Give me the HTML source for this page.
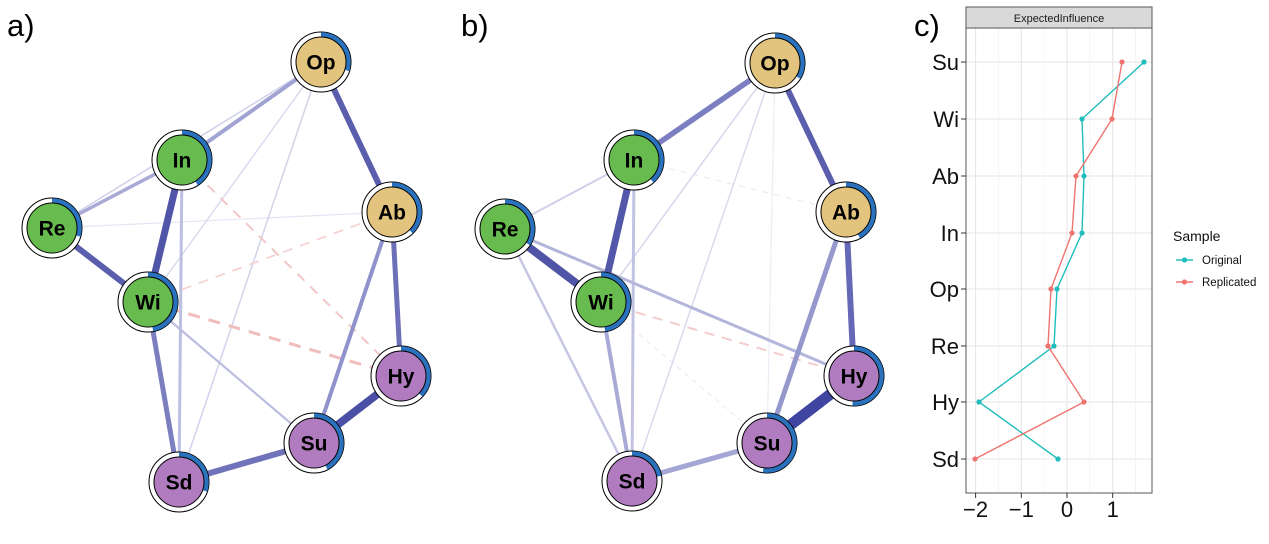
<!DOCTYPE html>
<html><head><meta charset="utf-8"><style>
html,body{margin:0;padding:0;background:#fff;}
svg{display:block;font-family:"Liberation Sans",Arial,sans-serif;}
.nl{font-weight:bold;font-size:21px;text-anchor:middle;fill:#000;}
.pl{font-size:31px;fill:#000;}
.yl{font-size:22px;text-anchor:end;fill:#111;}
.xl{font-size:22px;text-anchor:middle;fill:#111;}
</style></head><body>
<svg width="1269" height="544" viewBox="0 0 1269 544" xmlns="http://www.w3.org/2000/svg">
<rect width="1269" height="544" fill="#fff"/>
<text class="pl" x="7" y="36">a)</text>
<text class="pl" x="461" y="36">b)</text>
<text class="pl" x="914" y="36">c)</text>

<!-- Panel a edges -->
<g stroke-linecap="butt" fill="none">
<line x1="52" y1="228" x2="392" y2="212" stroke="#e4e5f3" stroke-width="1.2"/>
<line x1="52" y1="228" x2="321" y2="62" stroke="#cfd0ea" stroke-width="1.5"/>
<line x1="321" y1="62" x2="148" y2="302" stroke="#d8d9ee" stroke-width="1.4"/>
<line x1="321" y1="62" x2="179" y2="482" stroke="#d2d3eb" stroke-width="1.5"/>
<line x1="182" y1="160" x2="179" y2="482" stroke="#bdbfe0" stroke-width="3"/>
<line x1="148" y1="302" x2="314" y2="443" stroke="#bbbde0" stroke-width="2.2"/>
<line x1="52" y1="228" x2="182" y2="160" stroke="#a9abd6" stroke-width="3.5"/>
<line x1="321" y1="62" x2="182" y2="160" stroke="#a1a3d3" stroke-width="4"/>
<line x1="182" y1="160" x2="401" y2="376" stroke="#f2c6c6" stroke-width="2" stroke-dasharray="10 8"/>
<line x1="148" y1="302" x2="392" y2="212" stroke="#f5d3d3" stroke-width="1.8" stroke-dasharray="10 8"/>
<line x1="148" y1="302" x2="401" y2="376" stroke="#f0bcbc" stroke-width="3" stroke-dasharray="12 9"/>
<line x1="392" y1="212" x2="314" y2="443" stroke="#9092cb" stroke-width="4"/>
<line x1="392" y1="212" x2="401" y2="376" stroke="#6d70b8" stroke-width="5"/>
<line x1="148" y1="302" x2="179" y2="482" stroke="#7b7ebf" stroke-width="5"/>
<line x1="314" y1="443" x2="179" y2="482" stroke="#7073ba" stroke-width="6"/>
<line x1="321" y1="62" x2="392" y2="212" stroke="#5a5eac" stroke-width="6"/>
<line x1="52" y1="228" x2="148" y2="302" stroke="#5a5eac" stroke-width="6"/>
<line x1="182" y1="160" x2="148" y2="302" stroke="#5055a8" stroke-width="7"/>
<line x1="401" y1="376" x2="314" y2="443" stroke="#4b50a6" stroke-width="8"/>
</g>

<!-- Panel b edges -->
<g stroke-linecap="butt" fill="none">
<line x1="775" y1="63" x2="767" y2="443" stroke="#ececf6" stroke-width="1.2"/>
<line x1="634" y1="160" x2="846" y2="212" stroke="#efe9ef" stroke-width="1.2" stroke-dasharray="6 6"/>
<line x1="601" y1="302" x2="767" y2="443" stroke="#f0eaf0" stroke-width="1.2" stroke-dasharray="5 5"/>
<line x1="775" y1="63" x2="601" y2="302" stroke="#d6d7ec" stroke-width="1.5"/>
<line x1="775" y1="63" x2="632" y2="481" stroke="#d9daee" stroke-width="1.5"/>
<line x1="505" y1="229" x2="634" y2="160" stroke="#cfd0e9" stroke-width="2"/>
<line x1="505" y1="229" x2="632" y2="481" stroke="#c5c6e4" stroke-width="2.5"/>
<line x1="634" y1="160" x2="632" y2="481" stroke="#c2c3e3" stroke-width="3"/>
<line x1="505" y1="229" x2="854" y2="376" stroke="#b3b5db" stroke-width="3"/>
<line x1="601" y1="302" x2="632" y2="481" stroke="#a9abd6" stroke-width="4"/>
<line x1="601" y1="302" x2="854" y2="376" stroke="#f3cccc" stroke-width="2" stroke-dasharray="10 8"/>
<line x1="767" y1="443" x2="632" y2="481" stroke="#a4a6d3" stroke-width="5"/>
<line x1="846" y1="212" x2="767" y2="443" stroke="#9598cc" stroke-width="5"/>
<line x1="775" y1="63" x2="634" y2="160" stroke="#7b7ec0" stroke-width="5.5"/>
<line x1="846" y1="212" x2="854" y2="376" stroke="#6569b5" stroke-width="6"/>
<line x1="775" y1="63" x2="846" y2="212" stroke="#5a5eac" stroke-width="6"/>
<line x1="634" y1="160" x2="601" y2="302" stroke="#5257a9" stroke-width="7"/>
<line x1="505" y1="229" x2="601" y2="302" stroke="#4f54a7" stroke-width="8"/>
<line x1="854" y1="376" x2="767" y2="443" stroke="#3f45a0" stroke-width="11"/>
</g>

<g>
<!-- Panel a nodes -->
<g transform="translate(321,62)"><circle r="30" fill="#fff" stroke="#000" stroke-width="1"/><path d="M0,-27.5 A27.5,27.5 0 0 1 26.15,8.5" stroke="#2a72bd" stroke-width="4.5" fill="none"/><circle r="25" fill="#e3c47f" stroke="#000" stroke-width="1"/><text class="nl" y="7.5">Op</text></g>
<g transform="translate(182,160)"><circle r="30" fill="#fff" stroke="#000" stroke-width="1"/><path d="M0,-27.5 A27.5,27.5 0 0 1 14.57,23.32" stroke="#2a72bd" stroke-width="4.5" fill="none"/><circle r="25" fill="#67bb4f" stroke="#000" stroke-width="1"/><text class="nl" y="7.5">In</text></g>
<g transform="translate(52,228)"><circle r="30" fill="#fff" stroke="#000" stroke-width="1"/><path d="M0,-27.5 A27.5,27.5 0 0 1 26.3,8.04" stroke="#2a72bd" stroke-width="4.5" fill="none"/><circle r="25" fill="#67bb4f" stroke="#000" stroke-width="1"/><text class="nl" y="7.5">Re</text></g>
<g transform="translate(392,212)"><circle r="30" fill="#fff" stroke="#000" stroke-width="1"/><path d="M0,-27.5 A27.5,27.5 0 0 1 19.1,19.78" stroke="#2a72bd" stroke-width="4.5" fill="none"/><circle r="25" fill="#e3c47f" stroke="#000" stroke-width="1"/><text class="nl" y="7.5">Ab</text></g>
<g transform="translate(148,302)"><circle r="30" fill="#fff" stroke="#000" stroke-width="1"/><path d="M0,-27.5 A27.5,27.5 0 0 1 4.78,27.08" stroke="#2a72bd" stroke-width="4.5" fill="none"/><circle r="25" fill="#67bb4f" stroke="#000" stroke-width="1"/><text class="nl" y="7.5">Wi</text></g>
<g transform="translate(401,376)"><circle r="30" fill="#fff" stroke="#000" stroke-width="1"/><path d="M0,-27.5 A27.5,27.5 0 0 1 19.78,19.1" stroke="#2a72bd" stroke-width="4.5" fill="none"/><circle r="25" fill="#b07cbf" stroke="#000" stroke-width="1"/><text class="nl" y="7.5">Hy</text></g>
<g transform="translate(314,443)"><circle r="30" fill="#fff" stroke="#000" stroke-width="1"/><path d="M0,-27.5 A27.5,27.5 0 0 1 12.48,24.5" stroke="#2a72bd" stroke-width="4.5" fill="none"/><circle r="25" fill="#b07cbf" stroke="#000" stroke-width="1"/><text class="nl" y="7.5">Su</text></g>
<g transform="translate(179,482)"><circle r="30" fill="#fff" stroke="#000" stroke-width="1"/><path d="M0,-27.5 A27.5,27.5 0 0 1 26,8.95" stroke="#2a72bd" stroke-width="4.5" fill="none"/><circle r="25" fill="#b07cbf" stroke="#000" stroke-width="1"/><text class="nl" y="7.5">Sd</text></g>

<!-- Panel b nodes -->
<g transform="translate(775,63)"><circle r="30" fill="#fff" stroke="#000" stroke-width="1"/><path d="M0,-27.5 A27.5,27.5 0 0 1 23.32,14.57" stroke="#2a72bd" stroke-width="4.5" fill="none"/><circle r="25" fill="#e3c47f" stroke="#000" stroke-width="1"/><text class="nl" y="7.5">Op</text></g>
<g transform="translate(634,160)"><circle r="30" fill="#fff" stroke="#000" stroke-width="1"/><path d="M0,-27.5 A27.5,27.5 0 0 1 18.04,20.76" stroke="#2a72bd" stroke-width="4.5" fill="none"/><circle r="25" fill="#67bb4f" stroke="#000" stroke-width="1"/><text class="nl" y="7.5">In</text></g>
<g transform="translate(505,229)"><circle r="30" fill="#fff" stroke="#000" stroke-width="1"/><path d="M0,-27.5 A27.5,27.5 0 0 1 23.06,14.98" stroke="#2a72bd" stroke-width="4.5" fill="none"/><circle r="25" fill="#67bb4f" stroke="#000" stroke-width="1"/><text class="nl" y="7.5">Re</text></g>
<g transform="translate(846,212)"><circle r="30" fill="#fff" stroke="#000" stroke-width="1"/><path d="M0,-27.5 A27.5,27.5 0 0 1 12.91,24.28" stroke="#2a72bd" stroke-width="4.5" fill="none"/><circle r="25" fill="#e3c47f" stroke="#000" stroke-width="1"/><text class="nl" y="7.5">Ab</text></g>
<g transform="translate(601,302)"><circle r="30" fill="#fff" stroke="#000" stroke-width="1"/><path d="M0,-27.5 A27.5,27.5 0 0 1 3.83,27.23" stroke="#2a72bd" stroke-width="4.5" fill="none"/><circle r="25" fill="#67bb4f" stroke="#000" stroke-width="1"/><text class="nl" y="7.5">Wi</text></g>
<g transform="translate(854,376)"><circle r="30" fill="#fff" stroke="#000" stroke-width="1"/><path d="M0,-27.5 A27.5,27.5 0 1 1 -1.44,27.46" stroke="#2a72bd" stroke-width="4.5" fill="none"/><circle r="25" fill="#b07cbf" stroke="#000" stroke-width="1"/><text class="nl" y="7.5">Hy</text></g>
<g transform="translate(767,443)"><circle r="30" fill="#fff" stroke="#000" stroke-width="1"/><path d="M0,-27.5 A27.5,27.5 0 1 1 -3.83,27.23" stroke="#2a72bd" stroke-width="4.5" fill="none"/><circle r="25" fill="#b07cbf" stroke="#000" stroke-width="1"/><text class="nl" y="7.5">Su</text></g>
<g transform="translate(632,481)"><circle r="30" fill="#fff" stroke="#000" stroke-width="1"/><path d="M0,-27.5 A27.5,27.5 0 0 1 27.08,-4.78" stroke="#2a72bd" stroke-width="4.5" fill="none"/><circle r="25" fill="#b07cbf" stroke="#000" stroke-width="1"/><text class="nl" y="7.5">Sd</text></g>
</g>

<!-- Panel c -->
<g>
<rect x="966" y="28" width="186" height="465" fill="#fff"/>
<g stroke="#f1f1f1" stroke-width="0.7">
<line x1="998.5" y1="28" x2="998.5" y2="493"/>
<line x1="1044.2" y1="28" x2="1044.2" y2="493"/>
<line x1="1089.9" y1="28" x2="1089.9" y2="493"/>
<line x1="1135.6" y1="28" x2="1135.6" y2="493"/>
</g>
<g stroke="#e6e6e6" stroke-width="1.1">
<line x1="975.6" y1="28" x2="975.6" y2="493"/>
<line x1="1021.3" y1="28" x2="1021.3" y2="493"/>
<line x1="1067" y1="28" x2="1067" y2="493"/>
<line x1="1112.7" y1="28" x2="1112.7" y2="493"/>
<line x1="966" y1="62" x2="1152" y2="62"/>
<line x1="966" y1="119" x2="1152" y2="119"/>
<line x1="966" y1="176" x2="1152" y2="176"/>
<line x1="966" y1="233" x2="1152" y2="233"/>
<line x1="966" y1="289" x2="1152" y2="289"/>
<line x1="966" y1="346" x2="1152" y2="346"/>
<line x1="966" y1="402" x2="1152" y2="402"/>
<line x1="966" y1="459" x2="1152" y2="459"/>
</g>
<polyline fill="none" stroke="#20bdbd" stroke-width="1.4" points="1144,62 1082,119 1084,176 1082,233 1057,289 1054,346 979,402 1058,459"/>
<polyline fill="none" stroke="#ef7470" stroke-width="1.4" points="1122,62 1112,119 1076,176 1072,233 1051,289 1048,346 1084,402 975,459"/>
<g fill="#20bdbd">
<circle cx="1144" cy="62" r="2.6"/><circle cx="1082" cy="119" r="2.6"/><circle cx="1084" cy="176" r="2.6"/><circle cx="1082" cy="233" r="2.6"/><circle cx="1057" cy="289" r="2.6"/><circle cx="1054" cy="346" r="2.6"/><circle cx="979" cy="402" r="2.6"/><circle cx="1058" cy="459" r="2.6"/>
</g>
<g fill="#ef7470">
<circle cx="1122" cy="62" r="2.6"/><circle cx="1112" cy="119" r="2.6"/><circle cx="1076" cy="176" r="2.6"/><circle cx="1072" cy="233" r="2.6"/><circle cx="1051" cy="289" r="2.6"/><circle cx="1048" cy="346" r="2.6"/><circle cx="1084" cy="402" r="2.6"/><circle cx="975" cy="459" r="2.6"/>
</g>
<rect x="966" y="28" width="186" height="465" fill="none" stroke="#666" stroke-width="1.1"/>
<rect x="966" y="7" width="186" height="21" fill="#d9d9d9" stroke="#666" stroke-width="1.1"/>
<text x="1059" y="22" font-size="11" text-anchor="middle" fill="#1a1a1a">ExpectedInfluence</text>
<g stroke="#333" stroke-width="1">
<line x1="961" y1="62" x2="966" y2="62"/><line x1="961" y1="119" x2="966" y2="119"/><line x1="961" y1="176" x2="966" y2="176"/><line x1="961" y1="233" x2="966" y2="233"/><line x1="961" y1="289" x2="966" y2="289"/><line x1="961" y1="346" x2="966" y2="346"/><line x1="961" y1="402" x2="966" y2="402"/><line x1="961" y1="459" x2="966" y2="459"/>
<line x1="975.6" y1="493" x2="975.6" y2="498"/><line x1="1021.3" y1="493" x2="1021.3" y2="498"/><line x1="1067" y1="493" x2="1067" y2="498"/><line x1="1112.7" y1="493" x2="1112.7" y2="498"/>
</g>
<text class="yl" x="959" y="70">Su</text>
<text class="yl" x="959" y="127">Wi</text>
<text class="yl" x="959" y="184">Ab</text>
<text class="yl" x="959" y="241">In</text>
<text class="yl" x="959" y="297">Op</text>
<text class="yl" x="959" y="354">Re</text>
<text class="yl" x="959" y="410">Hy</text>
<text class="yl" x="959" y="467">Sd</text>
<text class="xl" x="975.6" y="517">−2</text>
<text class="xl" x="1021.3" y="517">−1</text>
<text class="xl" x="1067" y="517">0</text>
<text class="xl" x="1112.7" y="517">1</text>
<text x="1173" y="241" font-size="14" fill="#111">Sample</text>
<line x1="1176" y1="260" x2="1193" y2="260" stroke="#20bdbd" stroke-width="1.4"/>
<circle cx="1184.5" cy="260" r="2.6" fill="#20bdbd"/>
<text x="1202" y="264" font-size="11.5" fill="#111">Original</text>
<line x1="1176" y1="282" x2="1193" y2="282" stroke="#ef7470" stroke-width="1.4"/>
<circle cx="1184.5" cy="282" r="2.6" fill="#ef7470"/>
<text x="1202" y="286" font-size="11.5" fill="#111">Replicated</text>
</g>
</svg>
</body></html>
